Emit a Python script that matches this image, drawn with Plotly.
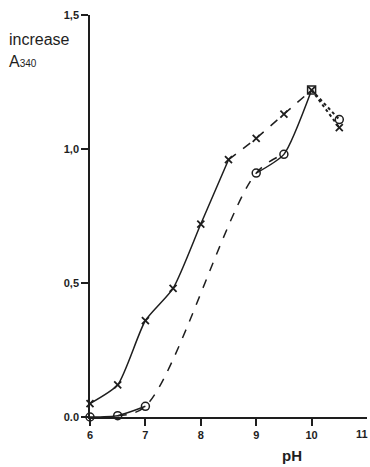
import plotly.graph_objects as go

# pH values and absorbance increase at 340 nm
ph_x = [6, 6.5, 7, 7.5, 8, 8.5, 9, 9.5, 10, 10.5]
a340_x = [0.05, 0.12, 0.36, 0.48, 0.72, 0.96, 1.04, 1.13, 1.22, 1.08]

ph_o = [6, 6.5, 7, 9, 9.5, 10, 10.5]
a340_o = [0.0, 0.005, 0.04, 0.91, 0.98, 1.22, 1.11]

y_ticks = [0, 0.5, 1.0, 1.5]
y_tick_text = ["0.0", "0,5", "1,0", "1,5"]
x_ticks = [6, 7, 8, 9, 10, 11]

INK = "#1e1e1e"


def seg(xs, ys, lo, hi):
    pts = [(a, b) for a, b in zip(xs, ys) if lo <= a <= hi]
    return [p[0] for p in pts], [p[1] for p in pts]


fig = go.Figure()


def add_line(xs, ys, dash, width=1.5, smoothing=0.6):
    fig.add_trace(go.Scatter(
        x=xs, y=ys, mode="lines",
        line=dict(color=INK, width=width, dash=dash, shape="spline",
                  smoothing=smoothing),
        cliponaxis=False, hoverinfo="skip", showlegend=False))


# crosses series: solid rise, dashed plateau, dotted fall
add_line(*seg(ph_x, a340_x, 6, 8.5), "solid")
add_line(*seg(ph_x, a340_x, 8.5, 10), "dash")
add_line(*seg(ph_x, a340_x, 10, 10.5), "dot", 2)

# circles series: dashed rise between solid stretches
add_line(*seg(ph_o, a340_o, 6.5, 9.5), "dash", 1.5, 1.0)
add_line(*seg(ph_o, a340_o, 6, 7), "solid")
add_line(*seg(ph_o, a340_o, 9, 10), "solid")
add_line(*seg(ph_o, a340_o, 10, 10.5), "dot", 2)

fig.add_trace(go.Scatter(
    x=ph_x, y=a340_x, mode="markers", cliponaxis=False,
    marker=dict(symbol="x-thin", size=7, line=dict(color=INK, width=1.8)),
    showlegend=False))
fig.add_trace(go.Scatter(
    x=ph_o, y=a340_o, mode="markers", cliponaxis=False,
    marker=dict(symbol=["circle-open"] * 5 + ["square-open", "circle-open"],
                size=8, color=INK, line=dict(color=INK, width=1.5)),
    showlegend=False))

tick_font = dict(family="Liberation Sans Narrow, Liberation Sans", size=11,
                 color=INK)

fig.update_layout(
    width=370, height=467,
    margin=dict(l=90, r=3, t=15, b=50),
    paper_bgcolor="white", plot_bgcolor="white",
    xaxis=dict(range=[6, 11], tickvals=x_ticks[:-1],
               ticktext=[f"<b>{v}</b>" for v in x_ticks[:-1]],
               ticks="outside", ticklen=7,
               tickwidth=1.5, tickcolor=INK, showline=True, linecolor=INK,
               linewidth=1.5, showgrid=False, zeroline=False,
               tickfont=tick_font),
    yaxis=dict(range=[0, 1.5], tickvals=y_ticks,
               ticktext=[f"<b>{t}</b>" for t in y_tick_text],
               ticks="outside", ticklen=7, tickwidth=1.5, tickcolor=INK,
               showline=True, linecolor=INK, linewidth=1.5, showgrid=False,
               zeroline=False, tickfont=tick_font),
    annotations=[
        # last x tick label, kept inside the right page edge
        dict(text=f"<b>{x_ticks[-1]}</b>", x=x_ticks[-1], xref="x",
             yref="paper", y=0, yshift=-17, xshift=3, showarrow=False,
             xanchor="right", yanchor="middle", font=tick_font),
        dict(text="<b>pH</b>", xref="paper", yref="paper", x=0.73, y=-0.095,
             showarrow=False, xanchor="center", yanchor="middle",
             font=dict(family="Liberation Sans", size=15, color=INK)),
        dict(text="increase", xref="paper", yref="paper", x=-0.3, y=0.94,
             showarrow=False, xanchor="left", yanchor="middle",
             font=dict(family="Liberation Sans", size=16, color=INK)),
        dict(text="A<span style='font-size:10px'>340</span>", xref="paper",
             yref="paper", x=-0.3, y=0.885, showarrow=False, xanchor="left",
             yanchor="middle",
             font=dict(family="Liberation Sans", size=16, color=INK)),
    ],
)

fig.write_html("out.html")
